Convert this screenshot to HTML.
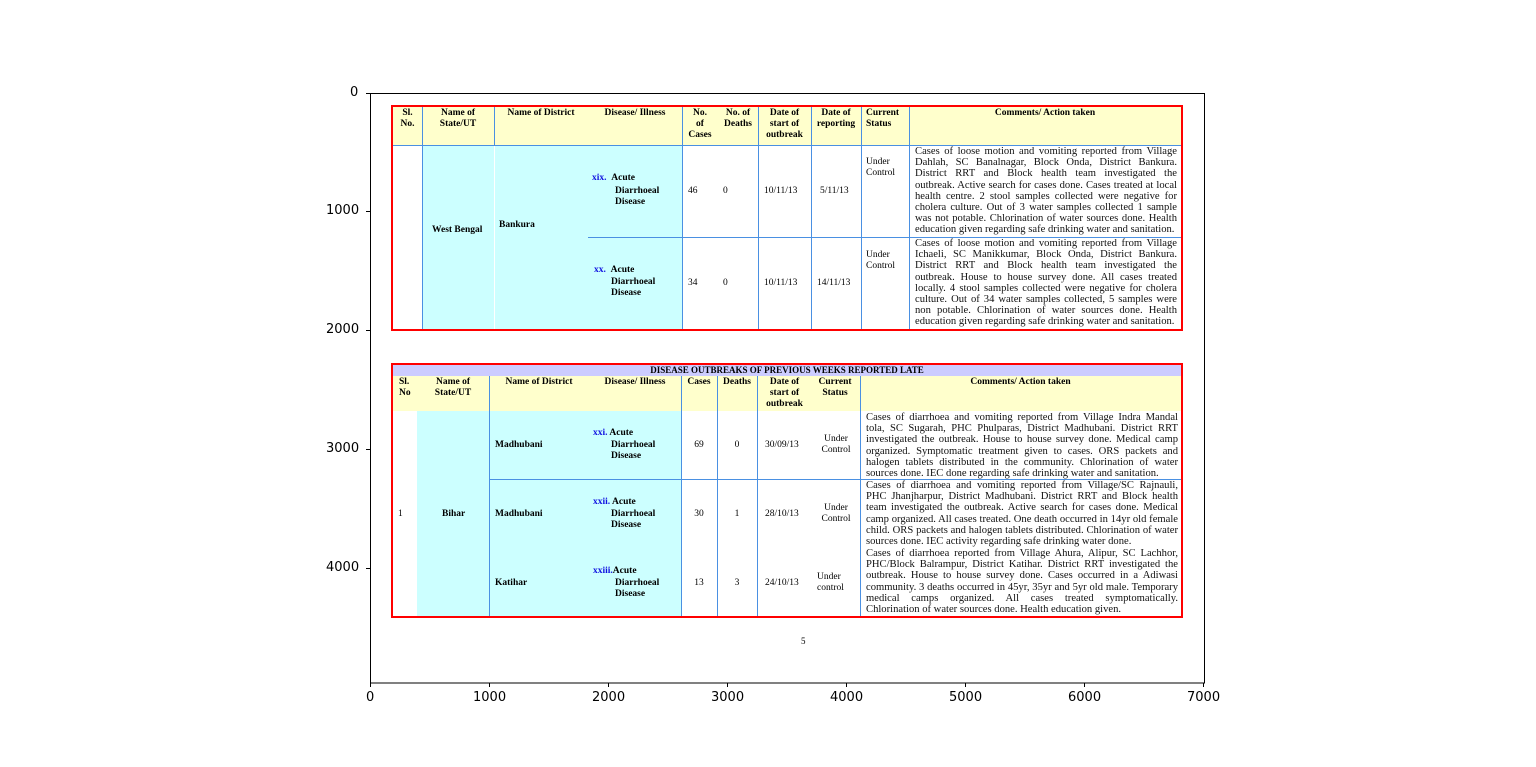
<!DOCTYPE html>
<html><head><meta charset="utf-8"><style>
body{margin:0;background:#fff;width:1536px;height:767px;overflow:hidden;position:relative;font-family:"Liberation Serif",serif;}
.a{position:absolute;}
.t{position:absolute;font-size:9.5px;line-height:11px;color:#000;}
.c{text-align:center;}
.b{font-weight:bold;}
.j{text-align:justify;text-align-last:left;font-size:10.6px;line-height:11.2px;color:#111;}
.bl{color:#1010e0;}
.tick{position:absolute;font-family:"DejaVu Sans",sans-serif;font-size:13px;color:#000;}
</style></head><body>
<svg class="a" style="left:0;top:0" width="1536" height="767">
<rect x="393" y="107" width="788" height="38" fill="#ffffcc"/>
<rect x="422" y="145" width="260" height="184" fill="#ccffff"/>
<g stroke="#4a90e2" stroke-width="1">
<line x1="393" y1="145.5" x2="1181" y2="145.5"/>
<line x1="422.5" y1="107" x2="422.5" y2="329"/>
<line x1="494.5" y1="107" x2="494.5" y2="145"/>
<line x1="682.5" y1="107" x2="682.5" y2="329"/>
<line x1="758.5" y1="107" x2="758.5" y2="329"/>
<line x1="811.5" y1="107" x2="811.5" y2="329"/>
<line x1="861.5" y1="107" x2="861.5" y2="329"/>
<line x1="909.5" y1="107" x2="909.5" y2="329"/>
<line x1="588" y1="237.5" x2="1181" y2="237.5"/>
</g>
<line x1="494.5" y1="146" x2="494.5" y2="329" stroke="#fff"/>
<rect x="392" y="106" width="790" height="224" fill="none" stroke="#f00" stroke-width="2"/>
<rect x="393" y="365" width="788" height="11" fill="#ccccff"/>
<rect x="393" y="376" width="788" height="35" fill="#ffffcc"/>
<rect x="417" y="411" width="264" height="205" fill="#ccffff"/>
<g stroke="#4a90e2" stroke-width="1">
<line x1="489.5" y1="376" x2="489.5" y2="616"/>
<line x1="681.5" y1="376" x2="681.5" y2="616"/>
<line x1="717.5" y1="376" x2="717.5" y2="616"/>
<line x1="757.5" y1="376" x2="757.5" y2="616"/>
<line x1="860.5" y1="376" x2="860.5" y2="616"/>
<line x1="489" y1="479.5" x2="1181" y2="479.5"/>
</g>
<rect x="392" y="364" width="790" height="253" fill="none" stroke="#f00" stroke-width="2"/>
<rect x="370.5" y="93.5" width="834" height="589.5" fill="none" stroke="#000" stroke-width="1"/>
<g stroke="#000">
<line x1="370.5" y1="683" x2="370.5" y2="687"/><line x1="489.5" y1="683" x2="489.5" y2="687"/>
<line x1="608.5" y1="683" x2="608.5" y2="687"/><line x1="727.5" y1="683" x2="727.5" y2="687"/>
<line x1="846.5" y1="683" x2="846.5" y2="687"/><line x1="965.5" y1="683" x2="965.5" y2="687"/>
<line x1="1084.5" y1="683" x2="1084.5" y2="687"/><line x1="1203.5" y1="683" x2="1203.5" y2="687"/>
<line x1="366" y1="93.5" x2="370" y2="93.5"/><line x1="366" y1="211.5" x2="370" y2="211.5"/>
<line x1="366" y1="330.5" x2="370" y2="330.5"/><line x1="366" y1="449.5" x2="370" y2="449.5"/>
<line x1="366" y1="568.5" x2="370" y2="568.5"/>
</g>
</svg>
<div class="tick" style="left:366px;top:690px">0</div>
<div class="tick" style="left:473px;top:690px">1000</div>
<div class="tick" style="left:592px;top:690px">2000</div>
<div class="tick" style="left:711px;top:690px">3000</div>
<div class="tick" style="left:830px;top:690px">4000</div>
<div class="tick" style="left:949px;top:690px">5000</div>
<div class="tick" style="left:1068px;top:690px">6000</div>
<div class="tick" style="left:1187px;top:690px">7000</div>
<div class="tick" style="left:350px;top:85px">0</div>
<div class="tick" style="left:326px;top:203px">1000</div>
<div class="tick" style="left:326px;top:322px">2000</div>
<div class="tick" style="left:326px;top:441px">3000</div>
<div class="tick" style="left:326px;top:560px">4000</div>

<div class="t c b" style="left:393px;top:108px;width:29px">Sl.<br>No.</div>
<div class="t c b" style="left:422px;top:108px;width:72px">Name of<br>State/UT</div>
<div class="t c b" style="left:494px;top:108px;width:94px">Name of District</div>
<div class="t c b" style="left:588px;top:108px;width:94px">Disease/ Illness</div>
<div class="t c b" style="left:682px;top:108px;width:36px">No.<br>of<br>Cases</div>
<div class="t c b" style="left:718px;top:108px;width:40px">No. of<br>Deaths</div>
<div class="t c b" style="left:758px;top:108px;width:53px">Date of<br>start of<br>outbreak</div>
<div class="t c b" style="left:811px;top:108px;width:50px">Date of<br>reporting</div>
<div class="t b" style="left:866px;top:108px">Current<br>Status</div>
<div class="t c b" style="left:909px;top:108px;width:272px">Comments/ Action taken</div>
<div class="t b" style="left:432px;top:225px">West Bengal</div>
<div class="t b" style="left:499px;top:220px">Bankura</div>
<div class="t b" style="left:592px;top:173px"><span class="bl">xix.</span>&nbsp;&nbsp;Acute</div>
<div class="t b" style="left:615px;top:186px">Diarrhoeal<br>Disease</div>
<div class="t b" style="left:594px;top:265px"><span class="bl">xx.</span>&nbsp;&nbsp;Acute</div>
<div class="t b" style="left:611px;top:277px">Diarrhoeal<br>Disease</div>
<div class="t" style="left:688px;top:186px">46</div><div class="t" style="left:723px;top:186px">0</div>
<div class="t" style="left:764px;top:186px">10/11/13</div><div class="t" style="left:820px;top:186px">5/11/13</div>
<div class="t" style="left:866px;top:157px">Under<br>Control</div>
<div class="t" style="left:688px;top:278px">34</div><div class="t" style="left:723px;top:278px">0</div>
<div class="t" style="left:764px;top:278px">10/11/13</div><div class="t" style="left:817px;top:278px">14/11/13</div>
<div class="t" style="left:866px;top:250px">Under<br>Control</div>
<div class="t j" style="left:915px;top:146px;width:262px">Cases of loose motion and vomiting reported from Village Dahlah, SC Banalnagar, Block Onda, District Bankura. District RRT and Block health team investigated the outbreak. Active search for cases done. Cases treated at local health centre. 2 stool samples collected were negative for cholera culture. Out of 3 water samples collected 1 sample was not potable. Chlorination of water sources done. Health education given regarding safe drinking water and sanitation.</div>
<div class="t j" style="left:915px;top:238px;width:262px">Cases of loose motion and vomiting reported from Village Ichaeli, SC Manikkumar, Block Onda, District Bankura. District RRT and Block health team investigated the outbreak. House to house survey done. All cases treated locally. 4 stool samples collected were negative for cholera culture. Out of 34 water samples collected, 5 samples were non potable. Chlorination of water sources done. Health education given regarding safe drinking water and sanitation.</div>

<div class="t c b" style="left:393px;top:365px;width:788px;font-size:9px;line-height:11px">DISEASE OUTBREAKS OF PREVIOUS WEEKS REPORTED LATE</div>
<div class="t b" style="left:399px;top:377px">Sl.<br>No</div>
<div class="t c b" style="left:417px;top:377px;width:72px">Name of<br>State/UT</div>
<div class="t c b" style="left:489px;top:377px;width:100px">Name of District</div>
<div class="t c b" style="left:589px;top:377px;width:92px">Disease/ Illness</div>
<div class="t c b" style="left:681px;top:377px;width:36px">Cases</div>
<div class="t c b" style="left:717px;top:377px;width:40px">Deaths</div>
<div class="t c b" style="left:757px;top:377px;width:55px">Date of<br>start of<br>outbreak</div>
<div class="t c b" style="left:810px;top:377px;width:50px">Current<br>Status</div>
<div class="t c b" style="left:860px;top:377px;width:321px">Comments/ Action taken</div>
<div class="t" style="left:398px;top:509px">1</div>
<div class="t b" style="left:442px;top:509px">Bihar</div>
<div class="t b" style="left:495px;top:440px">Madhubani</div>
<div class="t b" style="left:495px;top:509px">Madhubani</div>
<div class="t b" style="left:495px;top:578px">Katihar</div>
<div class="t b" style="left:593px;top:428px"><span class="bl">xxi.</span> Acute</div>
<div class="t b" style="left:611px;top:440px">Diarrhoeal<br>Disease</div>
<div class="t b" style="left:593px;top:497px"><span class="bl">xxii.</span> Acute</div>
<div class="t b" style="left:611px;top:509px">Diarrhoeal<br>Disease</div>
<div class="t b" style="left:593px;top:566px"><span class="bl">xxiii.</span>Acute</div>
<div class="t b" style="left:615px;top:578px">Diarrhoeal<br>Disease</div>
<div class="t c" style="left:681px;top:440px;width:36px">69</div>
<div class="t c" style="left:681px;top:509px;width:36px">30</div>
<div class="t c" style="left:681px;top:578px;width:36px">13</div>
<div class="t c" style="left:717px;top:440px;width:40px">0</div>
<div class="t c" style="left:717px;top:509px;width:40px">1</div>
<div class="t c" style="left:717px;top:578px;width:40px">3</div>
<div class="t" style="left:765px;top:440px">30/09/13</div>
<div class="t" style="left:765px;top:509px">28/10/13</div>
<div class="t" style="left:765px;top:578px">24/10/13</div>
<div class="t c" style="left:812px;top:434px;width:48px">Under<br>Control</div>
<div class="t c" style="left:812px;top:503px;width:48px">Under<br>Control</div>
<div class="t" style="left:817px;top:572px">Under<br>control</div>
<div class="t j" style="left:866px;top:412px;width:312px">Cases of diarrhoea and vomiting reported from Village Indra Mandal tola, SC Sugarah, PHC Phulparas, District Madhubani. District RRT investigated the outbreak. House to house survey done. Medical camp organized. Symptomatic treatment given to cases. ORS packets and halogen tablets distributed in the community. Chlorination of water sources done. IEC done regarding safe drinking water and sanitation.</div>
<div class="t j" style="left:866px;top:480px;width:312px">Cases of diarrhoea and vomiting reported from Village/SC Rajnauli, PHC Jhanjharpur, District Madhubani. District RRT and Block health team investigated the outbreak. Active search for cases done. Medical camp organized. All cases treated. One death occurred in 14yr old female child. ORS packets and halogen tablets distributed. Chlorination of water sources done. IEC activity regarding safe drinking water done.</div>
<div class="t j" style="left:866px;top:548px;width:312px">Cases of diarrhoea reported from Village Ahura, Alipur, SC Lachhor, PHC/Block Balrampur, District Katihar. District RRT investigated the outbreak. House to house survey done. Cases occurred in a Adiwasi community. 3 deaths occurred in 45yr, 35yr and 5yr old male. Temporary medical camps organized. All cases treated symptomatically. Chlorination of water sources done. Health education given.</div>
<div class="t" style="left:801px;top:636px;font-size:9px">5</div>
</body></html>
